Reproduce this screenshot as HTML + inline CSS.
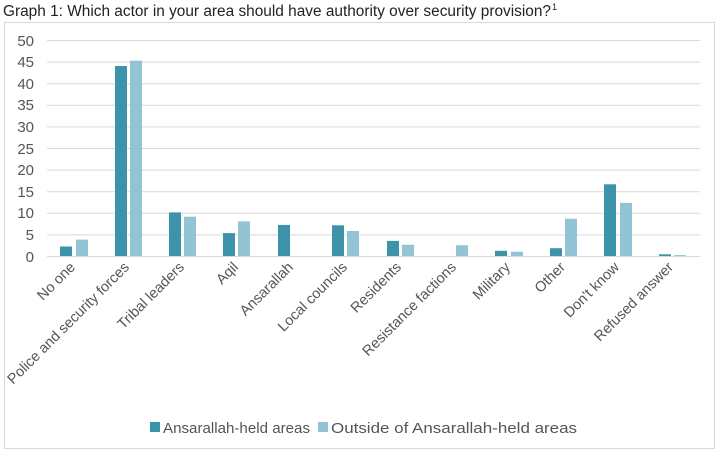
<!DOCTYPE html>
<html><head><meta charset="utf-8"><style>
html,body{margin:0;padding:0;background:#fff;}
svg{display:block;font-family:"Liberation Sans",sans-serif;}
</style></head><body>
<svg width="720" height="456" viewBox="0 0 720 456" xmlns="http://www.w3.org/2000/svg">
<rect width="720" height="456" fill="#fff"/>
<text x="3" y="16" font-size="15.5" fill="#222" textLength="548" lengthAdjust="spacingAndGlyphs">Graph 1: Which actor in your area should have authority over security provision?</text>
<text x="552" y="10" font-size="9" fill="#222">1</text>
<rect x="4.5" y="22.5" width="710" height="426" fill="none" stroke="#d9d9d9"/>
<g stroke="#d9d9d9" stroke-width="1">
<line x1="47" x2="700" y1="40.5" y2="40.5"/><line x1="47" x2="700" y1="62.1" y2="62.1"/>
<line x1="47" x2="700" y1="83.7" y2="83.7"/><line x1="47" x2="700" y1="105.3" y2="105.3"/>
<line x1="47" x2="700" y1="126.9" y2="126.9"/><line x1="47" x2="700" y1="148.5" y2="148.5"/>
<line x1="47" x2="700" y1="170.1" y2="170.1"/><line x1="47" x2="700" y1="191.7" y2="191.7"/>
<line x1="47" x2="700" y1="213.3" y2="213.3"/><line x1="47" x2="700" y1="234.9" y2="234.9"/>
<line x1="47" x2="700" y1="256.5" y2="256.5"/>
</g>
<g font-size="15" fill="#555" text-anchor="end">
<text x="34" y="46">50</text><text x="34" y="67">45</text><text x="34" y="89">40</text><text x="34" y="110">35</text>
<text x="34" y="132">30</text><text x="34" y="154">25</text><text x="34" y="175">20</text><text x="34" y="197">15</text>
<text x="34" y="218">10</text><text x="34" y="240">5</text><text x="34" y="262">0</text>
</g>
<g fill="#3d93a9">
<rect x="60" y="246.5" width="12" height="9.5"/>
<rect x="115" y="66" width="12" height="190"/>
<rect x="169" y="212.4" width="12" height="43.6"/>
<rect x="223" y="233.1" width="12" height="22.9"/>
<rect x="278" y="224.9" width="12" height="31.1"/>
<rect x="332" y="225.3" width="12" height="30.7"/>
<rect x="387" y="240.9" width="12" height="15.1"/>
<rect x="495" y="250.8" width="12" height="5.2"/>
<rect x="550" y="248.2" width="12" height="7.8"/>
<rect x="604" y="184.3" width="12" height="71.7"/>
<rect x="659" y="254.3" width="12" height="1.7"/>
</g>
<g fill="#93c4d6">
<rect x="76" y="239.6" width="12" height="16.4"/>
<rect x="130" y="60.7" width="12" height="195.3"/>
<rect x="184" y="216.7" width="12" height="39.3"/>
<rect x="238" y="221.4" width="12" height="34.6"/>
<rect x="347" y="231" width="12" height="25"/>
<rect x="402" y="244.8" width="12" height="11.2"/>
<rect x="456" y="245.2" width="12" height="10.8"/>
<rect x="511" y="251.7" width="12" height="4.3"/>
<rect x="565" y="218.8" width="12" height="37.2"/>
<rect x="620" y="202.9" width="12" height="53.1"/>
<rect x="674" y="255.1" width="12" height="0.9"/>
</g>
<g font-size="14.5" fill="#555" text-anchor="end">
<text transform="translate(76,268) rotate(-45)">No one</text>
<text transform="translate(130,268) rotate(-45)">Police and security forces</text>
<text transform="translate(185,268) rotate(-45)">Tribal leaders</text>
<text transform="translate(239,268) rotate(-45)">Aqil</text>
<text transform="translate(294,268) rotate(-45)">Ansarallah</text>
<text transform="translate(348,268) rotate(-45)">Local councils</text>
<text transform="translate(402,268) rotate(-45)">Residents</text>
<text transform="translate(457,268) rotate(-45)">Resistance factions</text>
<text transform="translate(511,268) rotate(-45)">Military</text>
<text transform="translate(566,268) rotate(-45)">Other</text>
<text transform="translate(620,268) rotate(-45)">Don't  know</text>
<text transform="translate(674,268) rotate(-45)">Refused answer</text>
</g>
<rect x="150" y="422" width="10" height="10" fill="#3d93a9"/>
<text x="163" y="433" font-size="15" fill="#555" textLength="147" lengthAdjust="spacingAndGlyphs">Ansarallah-held areas</text>
<rect x="318" y="422" width="10" height="10" fill="#93c4d6"/>
<text x="331" y="433" font-size="15" fill="#555" textLength="246" lengthAdjust="spacingAndGlyphs">Outside of Ansarallah-held areas</text>
</svg>
</body></html>
